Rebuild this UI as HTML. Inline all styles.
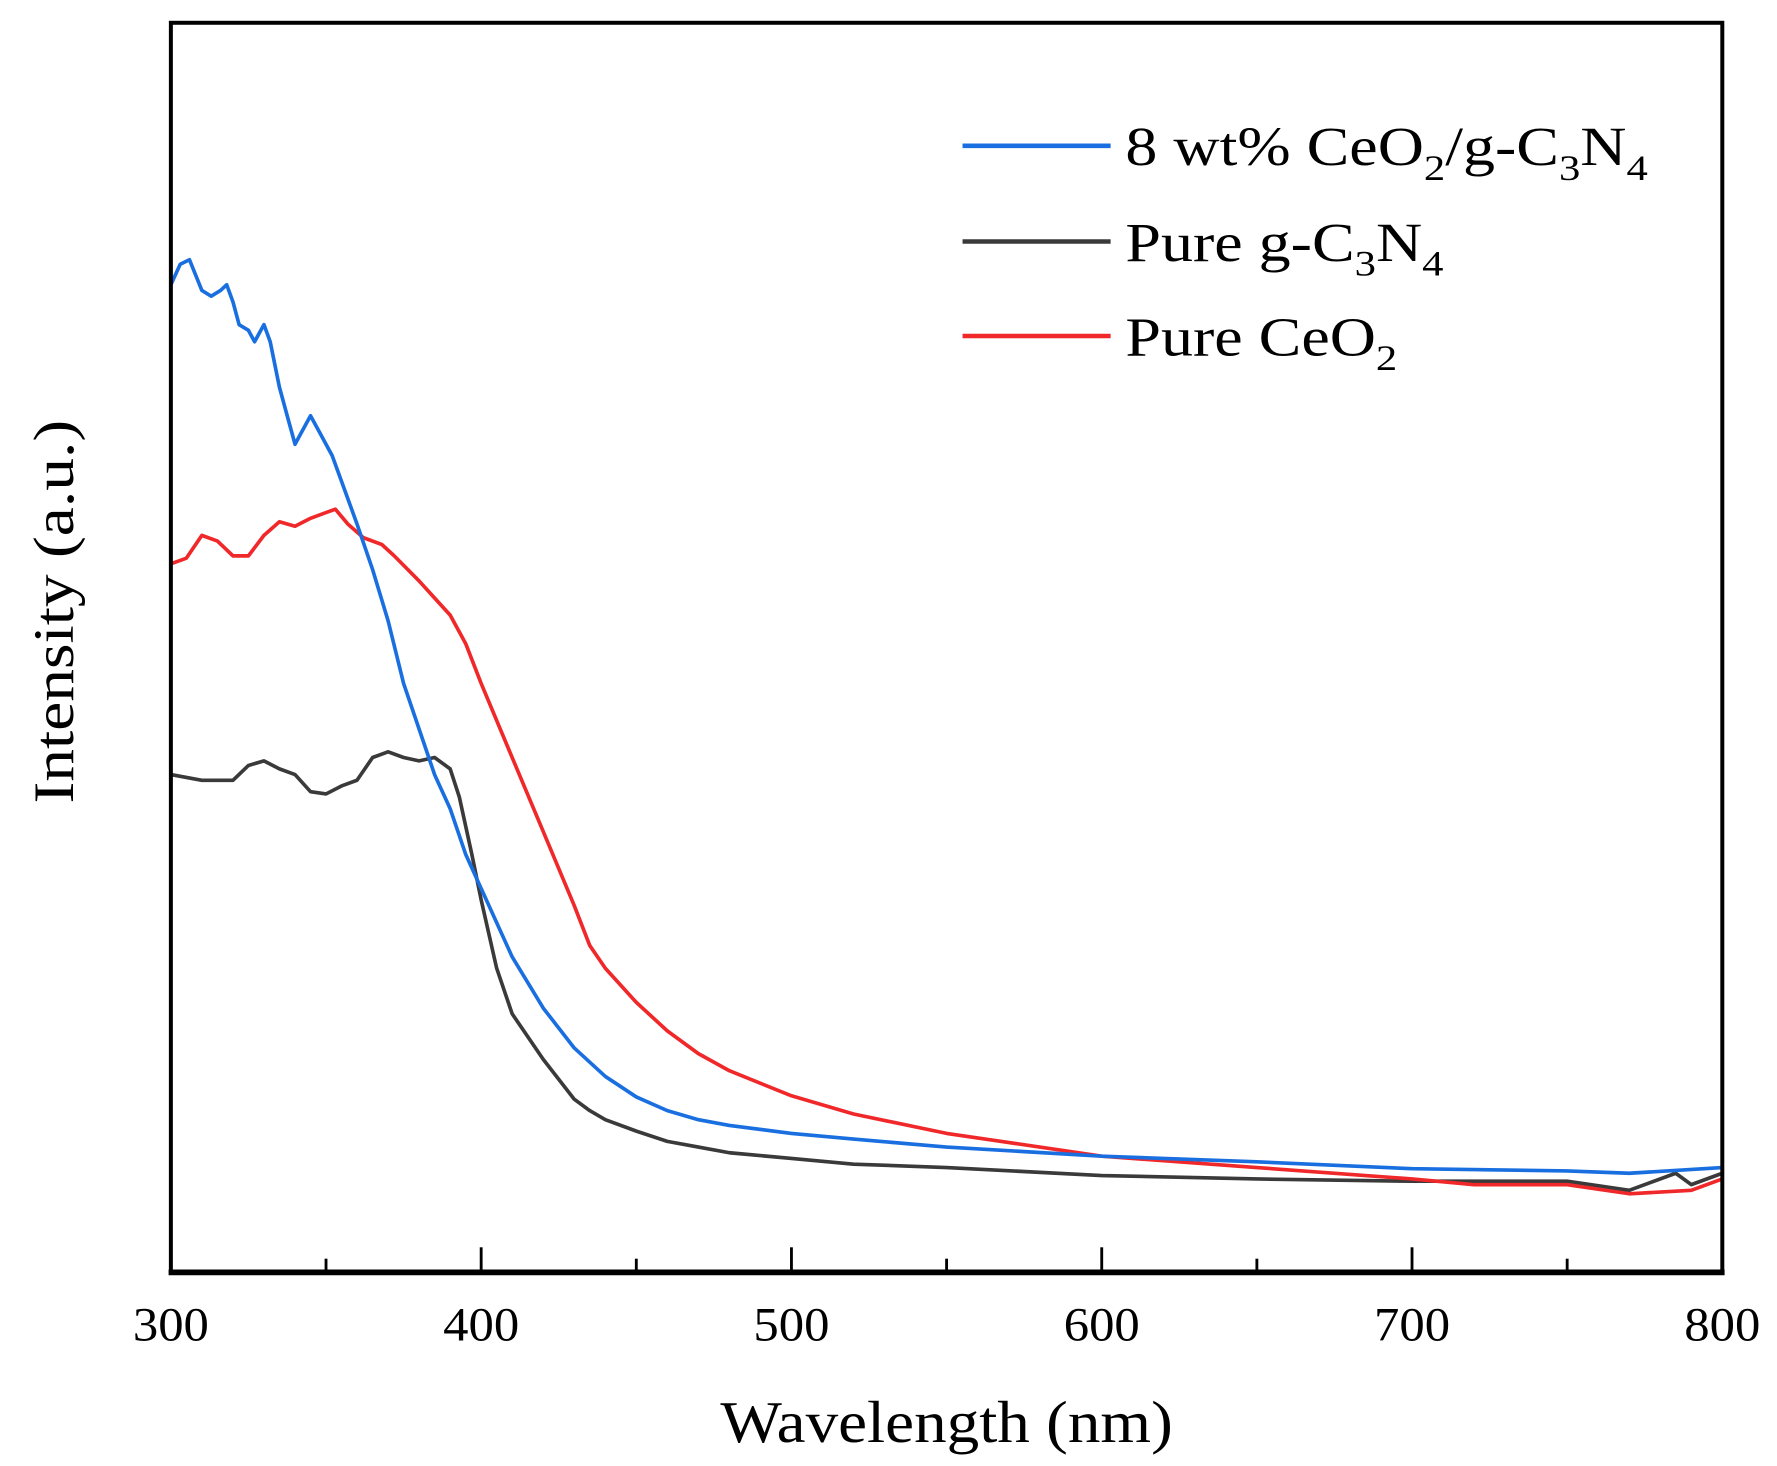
<!DOCTYPE html>
<html><head><meta charset="utf-8"><style>html,body{margin:0;padding:0;background:#fff}svg{display:block}text{font-family:"Liberation Serif",serif;fill:#000}</style></head>
<body>
<svg id="chart" width="1777" height="1466" viewBox="0 0 1560 1287" xmlns="http://www.w3.org/2000/svg">
<g id="plot"></g>
</svg>
<script>
const xTicks=[300,400,500,600,700,800];
const xMinor=[350,450,550,650,750];
const blueX=[300,303,306,310,313,316,318,320,322,325,327,330,332,335,338,340,342,345,348,352,356,360,365,370,375,380,385,390,395,400,410,420,430,440,450,460,470,480,500,520,550,600,650,700,750,770,800];
const blueY=[867,885,889,862,857,862,867,852,832,827,817,832,817,777,747,727,737,752,737,717,687,657,617,572,517,477,437,407,367,337,277,232,197,172,154,142,134,129,122,117,110,102,97,91,89,87,92];
const blackX=[300,310,320,325,330,335,340,345,350,355,360,365,370,375,380,385,390,393,397,400,405,410,420,430,435,440,450,460,470,480,500,520,550,600,650,700,750,770,785,790,800];
const blackY=[437,432,432,445,449,442,437,422,420,427,432,452,457,452,449,452,442,417,367,327,267,227,187,152,142,134,124,115,110,105,100,95,92,85,82,80,80,72,87,77,87];
const redX=[300,305,310,315,320,325,330,335,340,345,350,353,357,362,368,372,380,385,390,395,400,410,420,430,435,440,450,460,470,480,500,520,550,600,650,700,720,750,770,790,800];
const redY=[622,627,647,642,629,629,647,659,655,662,667,670,657,645,639,629,607,592,577,552,517,452,387,322,287,267,237,212,192,177,155,139,122,102,92,82,77,77,69,72,82];

const L=150,R=1512,T=20,B=1117;
const xs=v=>L+(v-300)/(800-300)*(R-L);
const ys=v=>B-v;
const NS="http://www.w3.org/2000/svg";
const g=document.getElementById('plot');
function mk(tag,attrs,parent){const e=document.createElementNS(NS,tag);for(const k in attrs)e.setAttribute(k,attrs[k]);(parent||g).appendChild(e);return e;}

function series(X,Y,color,name){
  const d=X.map((x,i)=>(i?'L':'M')+xs(x).toFixed(1)+' '+ys(Y[i]).toFixed(1)).join(' ');
  const p=mk('path',{d:d,fill:'none',stroke:color,'stroke-width':3.2,'stroke-linejoin':'round'});
  
  
}
series(blackX,blackY,'#3a3a3a','series-pure-g-c3n4');
series(redX,redY,'#f0282a','series-pure-ceo2');
series(blueX,blueY,'#1a6fe0','series-ceo2-g-c3n4');

const frame=mk('rect',{x:L,y:T,width:R-L,height:B-T,fill:'none',stroke:'#000','stroke-width':3.5});


const xaxis=mk('line',{x1:L-2,x2:R+2,y1:B,y2:B,stroke:'#000','stroke-width':5});



xTicks.forEach(t=>{
  const l=mk('line',{x1:xs(t),x2:xs(t),y1:B,y2:B-22,stroke:'#000','stroke-width':2.5});
  
  
  const tx=mk('text',{x:0,y:0,'text-anchor':'middle','font-size':42,transform:'translate('+xs(t)+',1177) scale(1.06,1)'});
  tx.textContent=t;
  
  
});
xMinor.forEach(t=>{
  const l=mk('line',{x1:xs(t),x2:xs(t),y1:B,y2:B-12,stroke:'#000','stroke-width':2.5});
  
  
});

const xt=mk('text',{x:0,y:0,'text-anchor':'middle','font-size':52,transform:'translate(831,1266) scale(1.1,1)'});
xt.textContent='Wavelength (nm)';


const yt=mk('text',{x:0,y:0,'text-anchor':'middle','font-size':50,transform:'translate(64,537) rotate(-90) scale(1.15,1)'});
yt.textContent='Intensity (a.u.)';



const leg=[['#1a6fe0',128,'8 wt% CeO<tspan font-size="32" dy="13">2</tspan><tspan dy="-13">/g-C</tspan><tspan font-size="32" dy="13">3</tspan><tspan dy="-13">N</tspan><tspan font-size="32" dy="13">4</tspan>'],
['#3a3a3a',212,'Pure g-C<tspan font-size="32" dy="13">3</tspan><tspan dy="-13">N</tspan><tspan font-size="32" dy="13">4</tspan>'],
['#f0282a',295,'Pure CeO<tspan font-size="32" dy="13">2</tspan>']];
leg.forEach(e=>{
  const ln=mk('line',{x1:845,x2:975,y1:e[1],y2:e[1],stroke:e[0],'stroke-width':4});
  
  
  const t=mk('text',{x:0,y:0,'font-size':48,transform:'translate(988,'+(e[1]+17)+') scale(1.17,1)'});
  t.innerHTML=e[2];
  
  
});
</script>
</body></html>
